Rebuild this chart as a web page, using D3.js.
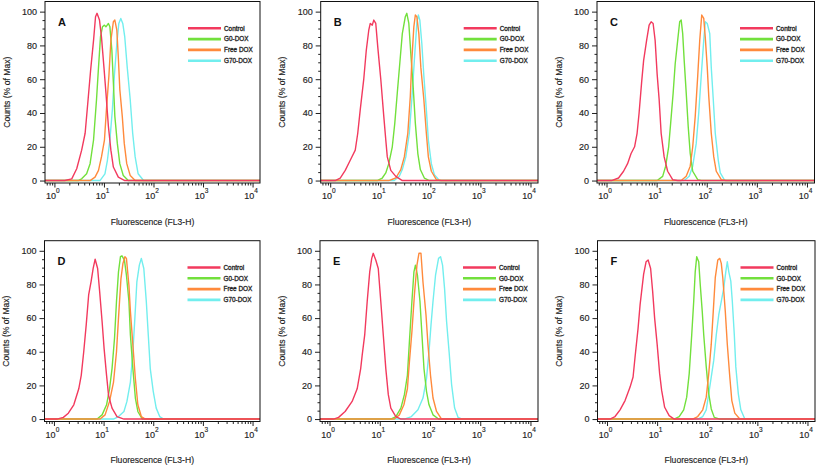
<!DOCTYPE html>
<html>
<head>
<meta charset="utf-8">
<script src="https://cdn.jsdelivr.net/npm/d3@7"></script>
<style>
  html, body { margin: 0; padding: 0; background: #fff; }
  svg { display: block; font-family: "Liberation Sans", Arial, sans-serif; }
</style>
</head>
<body>
<svg id="chart" width="817" height="468"></svg>
<script>
// ---------- data (x = log10 fluorescence FL3-H, y = counts % of max) ----------
const panelLetters = ["A", "B", "C", "D", "E", "F"];
const seriesNames = ["Control", "G0-DOX", "Free DOX", "G70-DOX"];
const yTickValues = [0, 20, 40, 60, 80, 100];
const xDecades = [0, 1, 2, 3, 4];

const A_control = [[-0.2,0],[0.21,0],[0.35,1],[0.45,7],[0.55,18],[0.62,28],[0.68,48],[0.73,65],[0.79,83],[0.83,97],[0.86,99],[0.91,95],[0.95,85],[1.0,67],[1.04,52],[1.09,32],[1.14,18],[1.19,8],[1.29,2],[1.42,0],[4.2,0]];
const A_g0 = [[-0.2,0],[0.48,0],[0.55,1],[0.65,4],[0.72,10],[0.79,24],[0.85,48],[0.89,67],[0.93,85],[0.97,91],[1.01,92],[1.04,91],[1.09,93],[1.12,91],[1.16,77],[1.19,58],[1.22,38],[1.27,22],[1.32,10],[1.39,3],[1.49,0],[4.2,0]];
const A_free = [[-0.2,0],[0.72,0],[0.82,2],[0.89,6],[0.95,14],[1.01,24],[1.05,42],[1.10,62],[1.14,83],[1.19,94],[1.22,95],[1.26,89],[1.29,73],[1.32,54],[1.37,38],[1.41,22],[1.46,10],[1.53,3],[1.63,0],[4.2,0]];
const A_g70 = [[-0.2,0],[0.92,0],[1.02,4],[1.07,12],[1.12,24],[1.17,42],[1.21,62],[1.26,81],[1.30,93],[1.34,96],[1.38,93],[1.42,85],[1.47,67],[1.53,48],[1.58,28],[1.63,14],[1.69,4],[1.80,0],[4.2,0]];

const B_control = [[-0.2,0],[0.10,0],[0.20,1.5],[0.30,6],[0.40,12],[0.50,18],[0.55,28],[0.60,42],[0.67,60],[0.72,77],[0.77,89],[0.80,93],[0.84,92],[0.87,95],[0.91,93],[0.95,79],[1.01,60],[1.07,38],[1.11,24],[1.14,14],[1.21,6],[1.31,2.5],[1.44,0],[4.2,0]];
const B_g0 = [[-0.2,0],[0.94,0],[1.04,1.5],[1.11,4.5],[1.17,10],[1.24,20],[1.29,34],[1.34,52],[1.40,73],[1.44,87],[1.50,97],[1.53,99],[1.57,93],[1.61,75],[1.66,54],[1.70,34],[1.75,16],[1.80,6.5],[1.88,1.5],[1.98,0],[4.2,0]];
const B_free = [[-0.2,0],[1.17,0],[1.31,1.5],[1.41,6.5],[1.48,14],[1.55,28],[1.60,50],[1.63,71],[1.67,91],[1.70,98],[1.73,97],[1.77,87],[1.81,67],[1.87,48],[1.92,28],[1.96,14],[2.02,5.5],[2.12,0.5],[2.22,0],[4.2,0]];
const B_g70 = [[-0.2,0],[1.28,0],[1.38,2.5],[1.44,6.5],[1.51,14],[1.58,28],[1.63,48],[1.68,71],[1.73,93],[1.76,98],[1.79,95],[1.83,81],[1.87,62],[1.92,42],[1.96,24],[2.02,10],[2.08,3.5],[2.18,0],[4.2,0]];

const C_control = [[-0.2,0],[0.10,0],[0.24,1.5],[0.34,5.5],[0.42,10],[0.49,16],[0.56,20],[0.61,28],[0.65,40],[0.70,58],[0.74,71],[0.80,83],[0.85,92],[0.89,94],[0.93,93],[0.97,83],[1.01,63],[1.05,48],[1.09,28],[1.15,14],[1.22,5.5],[1.32,0.5],[1.42,0],[4.2,0]];
const C_g0 = [[-0.2,0],[1.01,0],[1.12,2.5],[1.18,8.5],[1.24,20],[1.28,34],[1.33,52],[1.37,69],[1.42,83],[1.46,94],[1.49,95],[1.52,87],[1.55,71],[1.59,52],[1.63,32],[1.67,16],[1.72,5.5],[1.82,0.5],[1.89,0],[4.2,0]];
const C_free = [[-0.2,0],[1.49,0],[1.59,2.5],[1.67,8.5],[1.72,20],[1.77,38],[1.82,62],[1.86,83],[1.90,98],[1.94,96],[1.97,85],[2.01,67],[2.04,50],[2.09,28],[2.14,14],[2.19,5.5],[2.29,0.5],[2.39,0],[4.2,0]];
const C_g70 = [[-0.2,0],[1.55,0],[1.65,2.5],[1.72,8.5],[1.79,22],[1.84,40],[1.89,62],[1.94,83],[1.97,94],[2.01,93],[2.06,87],[2.09,67],[2.13,48],[2.17,28],[2.23,12],[2.27,4.5],[2.36,0],[4.2,0]];

const D_control = [[-0.2,0],[0.06,0],[0.19,1],[0.29,3.5],[0.40,8.5],[0.50,18],[0.55,26],[0.60,40],[0.65,56],[0.70,74],[0.75,82],[0.79,89.5],[0.83,95],[0.88,89.5],[0.92,76],[0.97,58],[1.01,42],[1.06,26],[1.10,14],[1.17,6.5],[1.27,1.5],[1.41,0],[4.2,0]];
const D_g0 = [[-0.2,0],[0.87,0],[0.97,2.5],[1.06,8.5],[1.12,18],[1.17,30],[1.22,48],[1.26,70],[1.30,87.5],[1.34,96.5],[1.37,97],[1.42,94.5],[1.46,85.5],[1.51,70],[1.54,50],[1.59,30],[1.64,12.5],[1.69,4.5],[1.78,0],[4.2,0]];
const D_free = [[-0.2,0],[0.93,0],[1.03,2.5],[1.12,10.5],[1.20,22],[1.26,40],[1.30,60],[1.35,83.5],[1.39,92.5],[1.43,96.5],[1.46,95.5],[1.51,79.5],[1.54,64],[1.59,44],[1.64,24],[1.69,8.5],[1.76,1.5],[1.84,0],[4.2,0]];
const D_g70 = [[-0.2,0],[1.20,0],[1.30,1.5],[1.41,4.5],[1.47,10.5],[1.54,22],[1.59,40],[1.63,60],[1.67,81.5],[1.72,91.5],[1.76,95.5],[1.81,89.5],[1.86,70],[1.90,50],[1.94,30],[2.00,16.5],[2.06,6.5],[2.13,1.5],[2.21,0],[4.2,0]];

const E_control = [[-0.2,0],[0.08,0],[0.18,1],[0.31,4.5],[0.45,10.5],[0.55,18],[0.62,30],[0.65,38],[0.70,50],[0.75,70],[0.80,87.5],[0.84,95.5],[0.87,98.5],[0.92,94.5],[0.97,89.5],[1.02,70],[1.07,50],[1.12,30],[1.17,14.5],[1.22,6.5],[1.32,1.5],[1.42,0],[4.2,0]];
const E_g0 = [[-0.2,0],[1.22,0],[1.32,1.5],[1.42,6.5],[1.49,14.5],[1.55,26],[1.59,46],[1.64,70],[1.68,87.5],[1.71,91.5],[1.75,85.5],[1.80,70],[1.84,50],[1.88,30],[1.93,16.5],[1.98,8.5],[2.06,2.5],[2.17,0],[4.2,0]];
const E_free = [[-0.2,0],[1.29,0],[1.39,2.5],[1.48,8.5],[1.55,18],[1.59,34],[1.64,52],[1.69,74],[1.74,91.5],[1.78,98.5],[1.82,98.5],[1.86,81.5],[1.92,62],[1.96,44],[2.01,26],[2.06,12.5],[2.13,4.5],[2.23,0],[4.2,0]];
const E_g70 = [[-0.2,0],[1.49,0],[1.63,1.5],[1.76,5.5],[1.86,12.5],[1.93,24],[1.98,40],[2.02,56],[2.06,70],[2.11,85.5],[2.17,95.5],[2.21,96.5],[2.25,91.5],[2.29,77.5],[2.33,58],[2.38,40],[2.43,20.5],[2.49,6.5],[2.56,1],[2.64,0],[4.2,0]];

const F_control = [[-0.2,0],[0.06,0],[0.16,1.5],[0.26,5.5],[0.36,11],[0.46,19],[0.52,25],[0.56,37],[0.62,54],[0.66,68],[0.73,86],[0.78,93.5],[0.82,94.5],[0.87,89.5],[0.91,76],[0.95,60],[1.00,44.5],[1.05,27],[1.09,17],[1.15,7],[1.24,2],[1.34,0],[4.2,0]];
const F_g0 = [[-0.2,0],[1.34,0],[1.44,1.5],[1.53,5.5],[1.59,13],[1.64,27],[1.69,50],[1.73,70],[1.76,87.5],[1.79,96.5],[1.83,93.5],[1.86,80],[1.90,64],[1.93,50],[1.98,31],[2.03,15],[2.08,6],[2.14,1],[2.25,0],[4.2,0]];
const F_free = [[-0.2,0],[1.71,0],[1.81,1.5],[1.91,5.5],[1.98,13],[2.03,27],[2.08,44.5],[2.12,64],[2.16,84],[2.21,94.5],[2.25,95.5],[2.28,92.5],[2.31,84],[2.36,64],[2.40,44.5],[2.45,25],[2.49,11],[2.55,3.5],[2.65,0],[4.2,0]];
const F_g70 = [[-0.2,0],[1.81,0],[1.91,1.5],[1.98,5.5],[2.04,17],[2.09,27],[2.13,35],[2.18,50],[2.23,62],[2.28,70],[2.33,78],[2.37,87.5],[2.40,93.5],[2.43,87.5],[2.47,82],[2.50,70],[2.54,50],[2.57,31],[2.62,15],[2.67,5.5],[2.75,0],[4.2,0]];

const panelData = [
  [A_control, A_g0, A_free, A_g70],
  [B_control, B_g0, B_free, B_g70],
  [C_control, C_g0, C_free, C_g70],
  [D_control, D_g0, D_free, D_g70],
  [E_control, E_g0, E_free, E_g70],
  [F_control, F_g0, F_free, F_g70]
];

// ---------- styling / layout ----------
const colors = ["#f23a5e", "#72e03c", "#ff8a3c", "#72eeee"];
const frames = [
  {l: 45,    r: 260,   t: 1.5,   b: 183},
  {l: 320.7, r: 538,   t: 1.5,   b: 183},
  {l: 597,   r: 814.5, t: 1.5,   b: 183},
  {l: 44.5,  r: 260,   t: 240.7, b: 421.5},
  {l: 320,   r: 538,   t: 240.7, b: 421.5},
  {l: 597.5, r: 815,   t: 240.7, b: 421.5}
];
const xLogDomain = [-0.19, 4.15];
const yDomain = [-1.45, 106];
const textColor = "#1e1e1e";

const svg = d3.select("#chart");
const drawOrder = [3, 1, 2, 0];

frames.forEach((f, pi) => {
  const g = svg.append("g");
  const x = d3.scaleLog().domain(xLogDomain.map(v => Math.pow(10, v))).range([f.l, f.r]);
  const y = d3.scaleLinear().domain(yDomain).range([f.b, f.t]);

  const clipId = "clip" + pi;
  g.append("clipPath").attr("id", clipId)
    .append("rect").attr("x", f.l).attr("y", f.t).attr("width", f.r - f.l).attr("height", f.b - f.t);

  // y axis ticks
  const yMinor = d3.range(0, 101, 5).filter(v => v % 20 !== 0);
  g.append("g").attr("transform", `translate(${f.l},0)`)
    .call(d3.axisLeft(y).tickValues(yMinor).tickSize(2.5).tickFormat(""))
    .call(s => s.select(".domain").remove())
    .call(s => s.selectAll("line").attr("stroke", "#222"));
  g.append("g").attr("transform", `translate(${f.l},0)`)
    .call(d3.axisLeft(y).tickValues(yTickValues).tickSize(5).tickPadding(3))
    .call(s => s.select(".domain").remove())
    .call(s => s.selectAll("line").attr("stroke", "#222"))
    .call(s => s.selectAll("text").attr("font-size", "9px").attr("fill", textColor)
      .attr("stroke", textColor).attr("stroke-width", 0.15)
      .attr("font-family", "'Liberation Sans', Arial, sans-serif"));

  // x axis ticks
  const xMinor = [];
  for (let d = -1; d <= 4; d++) for (let k = 2; k <= 9; k++) {
    const v = k * Math.pow(10, d);
    if (v >= x.domain()[0] && v <= x.domain()[1]) xMinor.push(v);
  }
  const xMajor = xDecades.map(d => Math.pow(10, d));
  g.append("g").attr("transform", `translate(0,${f.b})`)
    .call(d3.axisBottom(x).tickValues(xMinor).tickSize(2.5).tickFormat(""))
    .call(s => s.select(".domain").remove())
    .call(s => s.selectAll("line").attr("stroke", "#222"));
  g.append("g").attr("transform", `translate(0,${f.b})`)
    .call(d3.axisBottom(x).tickValues(xMajor).tickSize(4.5).tickFormat(""))
    .call(s => s.select(".domain").remove())
    .call(s => s.selectAll("line").attr("stroke", "#222"));
  xDecades.forEach(d => {
    const t = g.append("text")
      .attr("x", x(Math.pow(10, d)) - 1.5)
      .attr("y", f.b + 16)
      .attr("text-anchor", "middle")
      .attr("font-size", "9px")
      .attr("fill", textColor)
      .attr("stroke", textColor).attr("stroke-width", 0.15);
    t.append("tspan").text("10");
    t.append("tspan").attr("dy", -6).attr("font-size", "6.5px").text(String(d));
  });

  // curves
  const line = d3.line()
    .x(d => x(Math.pow(10, d[0])))
    .y(d => y(d[1]));
  const cg = g.append("g").attr("clip-path", `url(#${clipId})`);
  drawOrder.forEach(si => {
    cg.append("path")
      .datum(panelData[pi][si])
      .attr("d", line)
      .attr("fill", "none")
      .attr("stroke", colors[si])
      .attr("stroke-width", 1.4)
      .attr("stroke-linejoin", "round");
  });

  // frame
  g.append("rect")
    .attr("x", f.l).attr("y", f.t)
    .attr("width", f.r - f.l).attr("height", f.b - f.t)
    .attr("fill", "none").attr("stroke", "#111").attr("stroke-width", 1);

  // panel letter
  g.append("text")
    .attr("x", f.l + 13).attr("y", f.t + 24)
    .attr("font-size", "11px").attr("font-weight", "bold")
    .attr("fill", "#111")
    .text(panelLetters[pi]);

  // legend
  seriesNames.forEach((name, si) => {
    const ly = f.t + 26.8 + si * 10.8;
    g.append("line")
      .attr("x1", f.l + 143).attr("x2", f.l + 176)
      .attr("y1", ly).attr("y2", ly)
      .attr("stroke", colors[si]).attr("stroke-width", 2.6);
    g.append("text")
      .attr("x", f.l + 179).attr("y", ly + 2.3)
      .attr("font-size", "6.4px").attr("fill", "#222")
      .attr("stroke", "#222").attr("stroke-width", 0.3)
      .text(name);
  });

  // axis titles
  g.append("text")
    .attr("x", (f.l + f.r) / 2).attr("y", f.b + 41.5)
    .attr("text-anchor", "middle")
    .attr("font-size", "8.6px").attr("fill", textColor)
    .attr("stroke", textColor).attr("stroke-width", 0.15)
    .text("Fluorescence (FL3-H)");
  const ty = (f.t + f.b) / 2;
  g.append("text")
    .attr("transform", `translate(${f.l - 35.5},${ty}) rotate(-90)`)
    .attr("text-anchor", "middle")
    .attr("font-size", "8.6px").attr("fill", textColor)
    .attr("stroke", textColor).attr("stroke-width", 0.15)
    .text("Counts (% of Max)");
});
</script>
</body>
</html>
